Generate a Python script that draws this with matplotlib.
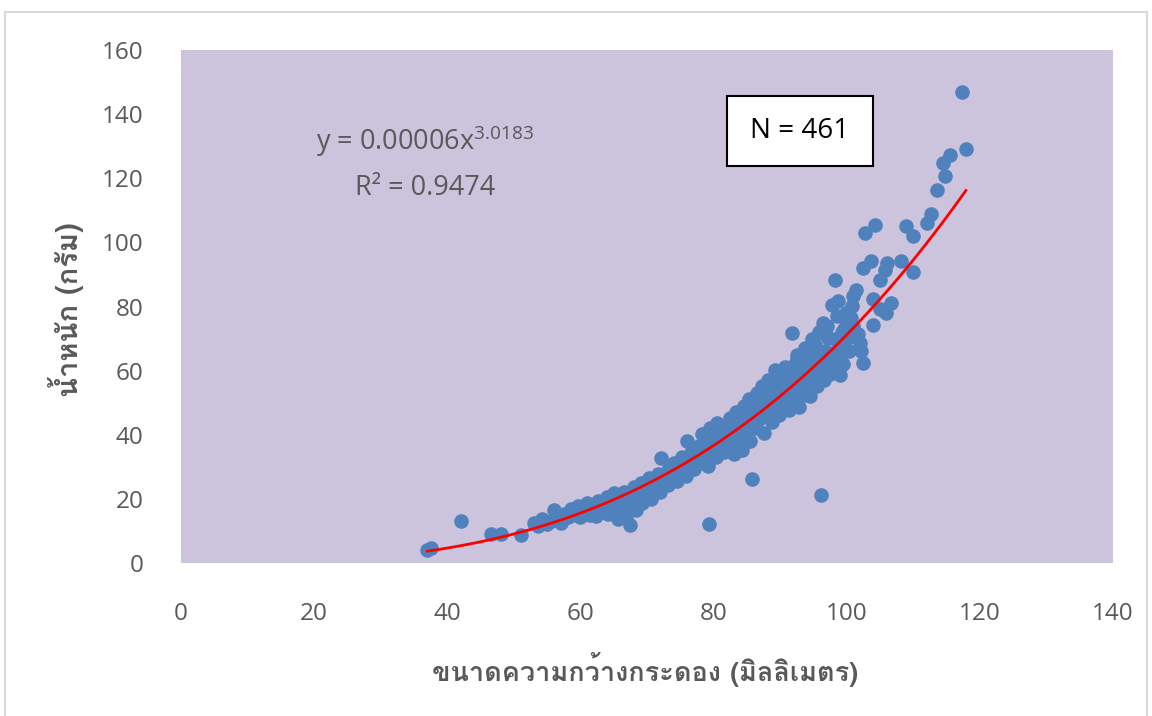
import numpy as np
import matplotlib
matplotlib.use("Agg")
import matplotlib.pyplot as plt
from matplotlib import font_manager
from matplotlib.ft2font import FT2Font
from matplotlib.patches import Rectangle

# shell width (mm) vs weight (g)
width_mm = [
    37.0, 37.6, 42.1, 46.6, 48.0, 51.0,
    53.0, 53.6, 54.2, 55.0, 55.6, 56.1, 56.7, 57.1, 57.6, 58.1, 58.6, 59.1, 59.6, 60.0,
    60.4, 61.0, 61.5, 62.0, 62.3, 62.6, 63.1, 63.6, 64.0, 64.1, 64.6, 65.0, 65.3, 65.7,
    66.1, 66.6, 66.8, 67.1, 67.5, 67.8, 68.1, 68.3, 68.8, 69.1, 69.3, 69.8, 70.1, 70.3,
    70.6, 71.1, 71.6, 72.0, 72.1, 72.6, 73.1, 73.2, 73.7, 74.1, 74.5, 75.1, 75.3, 75.8,
    76.0, 76.3, 76.8, 77.0, 77.3, 77.8, 78.0, 78.2, 78.6, 79.0, 79.1, 79.3, 79.5, 79.8,
    80.0, 80.3, 80.5, 81.0, 81.2, 81.5, 82.0, 82.2, 82.5, 82.8, 83.0, 83.3, 83.5, 83.8,
    84.0, 84.2, 84.5, 84.8, 85.0, 85.3, 85.5, 85.8, 86.0, 86.3, 86.5, 86.8, 87.0, 87.2,
    87.5, 87.8, 88.0, 88.2, 88.5, 88.8, 89.0, 89.2, 89.5, 89.8, 90.0, 90.3, 90.5, 90.8,
    91.0, 91.3, 91.5, 91.8, 92.0, 92.3, 92.5, 92.8, 93.0, 93.2, 93.5, 93.8, 94.0, 94.3,
    94.5, 94.8, 95.0, 95.3, 95.5, 95.8, 96.0, 96.2, 96.5, 96.6, 96.8, 97.0, 97.2, 97.5,
    97.8, 98.0, 98.3, 98.5, 98.7, 98.8, 99.0, 99.1, 99.3, 99.5, 99.8, 100.0, 100.3, 100.6,
    100.8, 100.9, 101.4, 101.7, 102.0, 102.1, 102.5, 102.5, 102.7, 103.7, 104.0, 104.0,
    104.3, 105.0, 105.0, 105.7, 105.9, 106.0, 106.7, 108.1, 108.9, 109.9, 110.0, 112.0,
    112.7, 113.6, 114.4, 114.8, 115.5, 117.3, 117.9,
    78.4, 79.6, 80.8, 81.8, 82.6, 83.6, 84.4, 85.2, 85.9, 86.6, 87.4, 88.3, 89.3, 90.2,
    91.2, 92.1, 93.3, 94.2, 95.2, 96.3, 97.3, 98.2, 99.6, 100.4, 70.8, 72.8, 74.8, 76.6,
    77.6, 63.3, 66.3, 68.6, 60.8, 58.8,
    86.1, 87.9, 89.6, 91.6, 93.6, 95.6, 97.6, 88.9, 90.6, 92.6, 94.6, 96.9, 81.4, 83.1,
    94.8, 95.9, 97.0, 99.9, 101.0, 93.8, 92.6,
]
weight_g = [
    4.2, 4.8, 13.1, 8.9, 9.1, 8.7,
    12.6, 11.5, 13.6, 12.2, 13.0, 16.6, 14.1, 12.6, 15.2, 14.3, 16.9, 15.4, 17.9, 14.4,
    16.2, 18.6, 15.1, 17.2, 14.6, 19.4, 16.1, 18.2, 20.6, 15.2, 17.6, 21.9, 15.6, 13.7,
    19.1, 22.2, 14.2, 17.6, 11.8, 20.1, 23.6, 16.6, 21.2, 25.1, 18.6, 23.3, 22.6, 26.6,
    20.1, 24.2, 27.9, 22.2, 32.6, 26.1, 29.1, 24.4, 27.6, 31.1, 25.6, 29.6, 33.1, 27.1,
    38.2, 31.2, 35.1, 29.2, 33.6, 36.6, 31.1, 40.1, 34.1, 37.6, 30.2, 12.1, 42.1, 35.6,
    39.1, 33.2, 43.6, 37.1, 40.6, 34.6, 42.1, 38.1, 45.1, 36.2, 40.1, 47.1, 43.1, 38.6,
    45.6, 35.2, 49.1, 41.1, 44.1, 51.1, 38.2, 26.1, 47.1, 42.1, 53.1, 49.1, 45.1, 55.1,
    40.4, 51.1, 47.1, 57.1, 53.1, 44.1, 49.6, 60.1, 55.1, 46.1, 52.1, 58.1, 49.1, 61.1,
    54.1, 47.6, 57.1, 71.6, 51.1, 62.1, 55.1, 48.6, 59.1, 64.1, 53.1, 61.1, 56.6, 66.1,
    52.1, 62.1, 58.1, 68.1, 55.1, 64.1, 60.1, 21.2, 74.9, 57.1, 66.1, 62.1, 70.1, 59.1,
    80.6, 64.1, 88.4, 77.0, 81.6, 67.1, 58.5, 65.7, 72.1, 62.1, 69.1, 75.1, 66.1, 76.5,
    80.1, 83.2, 85.3, 71.3, 68.7, 66.1, 62.5, 92.0, 102.9, 94.1, 82.2, 74.1,
    105.5, 79.1, 88.2, 91.5, 78.0, 93.6, 81.2, 94.3, 105.2, 90.7, 102.1, 106.0,
    108.9, 116.4, 124.9, 120.6, 127.3, 147.0, 129.2,
    36.0, 39.5, 41.5, 39.0, 41.0, 45.0, 43.0, 46.5, 49.5, 44.5, 48.0, 50.5, 52.0, 55.0,
    52.5, 58.0, 56.5, 60.0, 61.5, 63.0, 65.5, 70.0, 73.0, 70.5, 23.2, 25.4, 28.3, 30.5,
    32.4, 17.5, 18.6, 20.1, 16.9, 15.1,
    44.0, 46.0, 48.5, 50.0, 52.5, 57.0, 61.0, 56.0, 60.0, 63.5, 67.0, 71.0, 36.0, 34.0,
    70.0, 72.0, 74.0, 78.0, 74.0, 67.0, 65.0,
]

x_ticks = [0, 20, 40, 60, 80, 100, 120, 140]
y_ticks = [0, 20, 40, 60, 80, 100, 120, 140, 160]
x_label = "ขนาดความกว้างกระดอง (มิลลิเมตร)"
y_label = "น้ำหนัก (กรัม)"
eq_text = r"y = 0.00006x$^{\mathregular{3.0183}}$"
r2_text = "R² = 0.9474"
n_text = "N = 461"


def thai_family():
    # look for any installed font that has Thai glyphs
    for f in font_manager.fontManager.ttflist:
        try:
            if 0x0E01 in FT2Font(f.fname).get_charmap():
                return f.name
        except Exception:
            pass
    return None


fam = thai_family()
thai_fams = ([fam] if fam else []) + ["DejaVu Sans"]
num_fams = ["Open Sans", "DejaVu Sans"]
plt.rcParams["font.family"] = num_fams
plt.rcParams["mathtext.fontset"] = "custom"
plt.rcParams["mathtext.rm"] = "Open Sans"

grey = "#595959"

fig = plt.figure(figsize=(11.52, 7.16), dpi=100)
ax = fig.add_axes([181 / 1152, 1 - 563 / 716, 932 / 1152, 513 / 716])
ax.set_facecolor("#CCC3DC")

x = np.array(width_mm)
y = np.array(weight_g)
ax.scatter(x, y, s=110, color="#4F81BD", zorder=2, linewidths=0)

# power trendline, fitted in log space like Excel does
b, log_a = np.polyfit(np.log(x), np.log(y), 1)
xs = np.linspace(x.min(), x.max(), 200)
ax.plot(xs, np.exp(log_a) * xs ** b, color="#FF0000", lw=2, zorder=3)

ax.set_xlim(0, 140)
ax.set_ylim(0, 160)
ax.set_xticks(x_ticks)
ax.set_yticks(y_ticks)
ax.tick_params(length=0, labelsize=17.5, labelcolor=grey)
ax.tick_params(axis="x", pad=28)
ax.tick_params(axis="y", pad=27)
for s in ax.spines.values():
    s.set_visible(False)

fig.text(645 / 1152, 1 - 670 / 716, x_label, family=thai_fams, fontsize=19.5,
         fontweight="bold", color=grey, ha="center", va="center")
fig.text(66 / 1152, 1 - 310 / 716, y_label, family=thai_fams, fontsize=21,
         fontweight="bold", color=grey, ha="center", va="center", rotation=90)

fig.text(425 / 1152, 1 - 141 / 716, eq_text, fontsize=19.5, color=grey,
         ha="center", va="center")
fig.text(425 / 1152, 1 - 188 / 716, r2_text, fontsize=19.5, color=grey,
         ha="center", va="center")

# N box
ax.add_patch(Rectangle(((727 - 181) / 932, (563 - 166) / 513), 146 / 932, 70 / 513,
                       transform=ax.transAxes, fc="white", ec="black", lw=1.5, zorder=4))
ax.text((800 - 181) / 932, (563 - 131) / 513, n_text, transform=ax.transAxes,
        fontsize=20, color="black", ha="center", va="center", zorder=5)

# light outer chart frame
fig.patches.append(Rectangle((5 / 1152, -0.01), 1142 / 1152, 1 - 12 / 716 + 0.01,
                             transform=fig.transFigure, fill=False,
                             ec="#D9D9D9", lw=1.5))

fig.savefig("out.png", dpi=100)
